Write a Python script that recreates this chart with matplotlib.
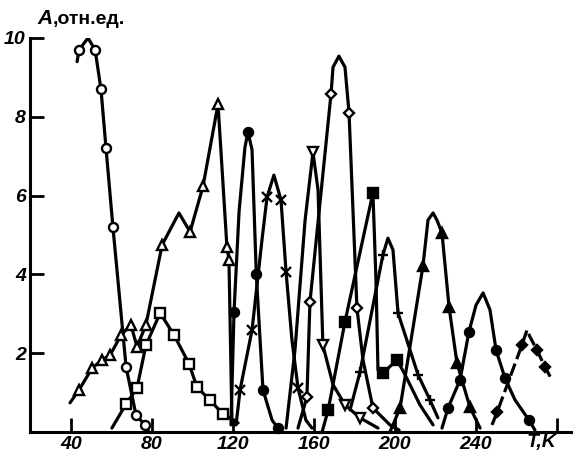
import matplotlib

matplotlib.use("Agg")
import matplotlib.pyplot as plt
import numpy as np

# Temperature (K) and amplitude (rel. units).
# *_mk are indices of the points that carry a marker.

# open circles
circ_T = [43.0, 44.0, 48.4, 51.9, 54.8, 57.3, 60.7, 67.2, 72.1, 76.5, 78.5]
circ_A = [9.4, 9.7, 10.0, 9.7, 8.7, 7.2, 5.2, 1.65, 0.43, 0.18, 0.0]
circ_mk = [1, 3, 4, 5, 6, 7, 8, 9]

# open triangles
tri_T = [39.5, 44.0, 50.4, 55.3, 59.3, 64.7, 69.6, 72.6, 77.0, 85.0, 93.3,
         98.8, 105.2, 112.6, 117.0, 118.0, 119.5]
tri_A = [0.74, 1.07, 1.62, 1.83, 1.95, 2.46, 2.72, 2.16, 2.72, 4.75, 5.56,
         5.08, 6.24, 8.32, 4.70, 4.37, 0.2]
tri_mk = [1, 2, 3, 4, 5, 6, 7, 8, 9, 11, 12, 13, 14, 15]

# open squares
sq_T = [60.2, 67.2, 72.6, 77.0, 84.0, 90.9, 98.3, 102.2, 108.6, 115.0, 122.5]
sq_A = [0.1, 0.71, 1.12, 2.2, 3.02, 2.46, 1.73, 1.14, 0.81, 0.46, 0.23]
sq_mk = [1, 2, 3, 4, 5, 6, 7, 8, 9]

# filled circles, first peak
dot1_T = [119.0, 120.5, 123.0, 125.9, 127.4, 129.4, 131.5, 134.8, 139.3, 142.2]
dot1_A = [0.18, 3.05, 5.6, 7.23, 7.61, 7.16, 4.0, 1.07, 0.3, 0.1]
dot1_mk = [1, 4, 6, 7, 9]

# crosses
cross_T = [121.5, 123.5, 129.4, 134.3, 136.8, 140.2, 143.7, 146.2, 149.1,
           152.1, 156.0, 159.0]
cross_A = [0.18, 1.07, 2.59, 4.87, 5.96, 6.52, 5.89, 4.06, 2.34, 1.12, 0.3, 0.1]
cross_mk = [1, 2, 4, 6, 7, 9]

# open inverted triangles
vtri_T = [146.2, 150.6, 155.6, 159.5, 162.0, 164.4, 169.4, 175.3, 182.7, 191.6]
vtri_A = [0.1, 2.08, 5.38, 7.1, 6.14, 2.2, 1.2, 0.69, 0.36, 0.1]
vtri_mk = [3, 5, 7, 8]

# open diamonds
dia_T = [152.1, 156.5, 158.0, 168.4, 169.4, 172.3, 175.3, 177.3, 181.2,
         184.2, 189.1, 197.5, 202.0]
dia_A = [0.1, 0.89, 3.3, 8.58, 9.26, 9.54, 9.26, 8.1, 3.15, 1.83, 0.61, 0.18, 0.05]
dia_mk = [1, 2, 3, 7, 8, 10]

# filled squares
fsq_T = [164.0, 167.0, 175.3, 189.1, 190.6, 191.6, 194.1, 201.0, 205.0,
         212.3, 218.8]
fsq_A = [0.0, 0.56, 2.8, 6.07, 3.86, 1.57, 1.5, 1.83, 1.45, 0.69, 0.18]
fsq_mk = [1, 2, 3, 6, 7]

# plus signs
plus_T = [177.8, 182.7, 194.0, 196.5, 199.0, 201.5, 211.4, 217.3, 221.2]
plus_A = [0.56, 1.52, 4.49, 4.92, 4.62, 3.02, 1.45, 0.81, 0.36]
plus_mk = [1, 2, 5, 6, 7]

# filled triangles
ftri_T = [197.5, 202.5, 213.8, 216.3, 218.8, 220.7, 223.2, 226.7, 230.6,
          237.0, 242.0]
ftri_A = [0.0, 0.61, 4.21, 5.38, 5.56, 5.38, 5.05, 3.17, 1.75, 0.63, 0.1]
ftri_mk = [1, 2, 6, 7, 8, 9]

# filled circles, second peak
dot2_T = [223.2, 226.2, 232.1, 236.5, 240.0, 243.5, 246.9, 249.9, 254.3,
          259.3, 266.2, 269.1]
dot2_A = [0.1, 0.61, 1.32, 2.54, 3.22, 3.53, 3.1, 2.08, 1.37, 0.81, 0.3, 0.05]
dot2_mk = [1, 2, 3, 7, 8, 10]

# filled diamonds (dashed)
fdia_T = [247.9, 250.4, 262.7, 265.2, 266.7, 270.1, 274.1, 277.5]
fdia_A = [0.18, 0.5, 2.21, 2.59, 2.41, 2.08, 1.65, 1.32]
fdia_mk = [1, 2, 5, 6]

x_ticks = [40, 80, 120, 160, 200, 240, 280]
x_labels = ["40", "80", "120", "160", "200", "240", ""]
y_ticks = [2, 4, 6, 8, 10]
y_labels = ["2", "4", "6", "8", "10"]

curves = [
    (circ_T, circ_A, circ_mk, "o", "white", "-"),
    (tri_T, tri_A, tri_mk, "^", "white", "-"),
    (sq_T, sq_A, sq_mk, "s", "white", "-"),
    (dot1_T, dot1_A, dot1_mk, "o", "black", "-"),
    (cross_T, cross_A, cross_mk, "x", "black", "-"),
    (vtri_T, vtri_A, vtri_mk, "v", "white", "-"),
    (dia_T, dia_A, dia_mk, "D", "white", "-"),
    (fsq_T, fsq_A, fsq_mk, "s", "black", "-"),
    (plus_T, plus_A, plus_mk, "+", "black", "-"),
    (ftri_T, ftri_A, ftri_mk, "^", "black", "-"),
    (dot2_T, dot2_A, dot2_mk, "o", "black", "-"),
    (fdia_T, fdia_A, fdia_mk, "D", "black", (0, (4, 1.5))),
]

plt.rcParams["font.family"] = ["Liberation Sans", "DejaVu Sans"]

W, H = 573, 453
fig = plt.figure(figsize=(W / 100, H / 100), dpi=100)
ax = fig.add_axes([30 / W, 21 / H, 543 / W, 394 / H])

for T, A, mk, marker, face, ls in curves:
    T = np.asarray(T)
    A = np.asarray(A)
    ax.plot(T, A, color="black", lw=2.3, ls=ls, solid_capstyle="round",
            solid_joinstyle="round", zorder=2)
    size = 5.5 if marker == "D" else 6.5
    ax.plot(T[mk], A[mk], ls="none", marker=marker, mfc=face, mec="black",
            ms=size, mew=1.7, zorder=3, clip_on=False)

ax.set_xlim(19.75, 287.9)
ax.set_ylim(0, 10)
ax.set_xticks(x_ticks)
ax.set_xticklabels(x_labels)
ax.set_yticks(y_ticks)
ax.set_yticklabels(y_labels)
ax.tick_params(direction="in", length=10, width=2, pad=3, labelsize=14)
for lab in ax.get_xticklabels() + ax.get_yticklabels():
    lab.set_fontstyle("italic")
    lab.set_fontweight("bold")

for side in ("top", "right"):
    ax.spines[side].set_visible(False)
for side in ("left", "bottom"):
    ax.spines[side].set_linewidth(2.2)

fig.text(37 / W, 1 - 19 / H, "A", fontsize=15, style="italic",
         fontweight="bold", va="center", ha="left")
fig.text(53 / W, 1 - 19 / H, ",отн.ед.", fontsize=14, fontweight="bold",
         va="center", ha="left")
fig.text(527 / W, 1 - 442 / H, "T,K", fontsize=14, style="italic",
         fontweight="bold", va="center", ha="left")

fig.savefig("out.png", dpi=100, facecolor="white")
